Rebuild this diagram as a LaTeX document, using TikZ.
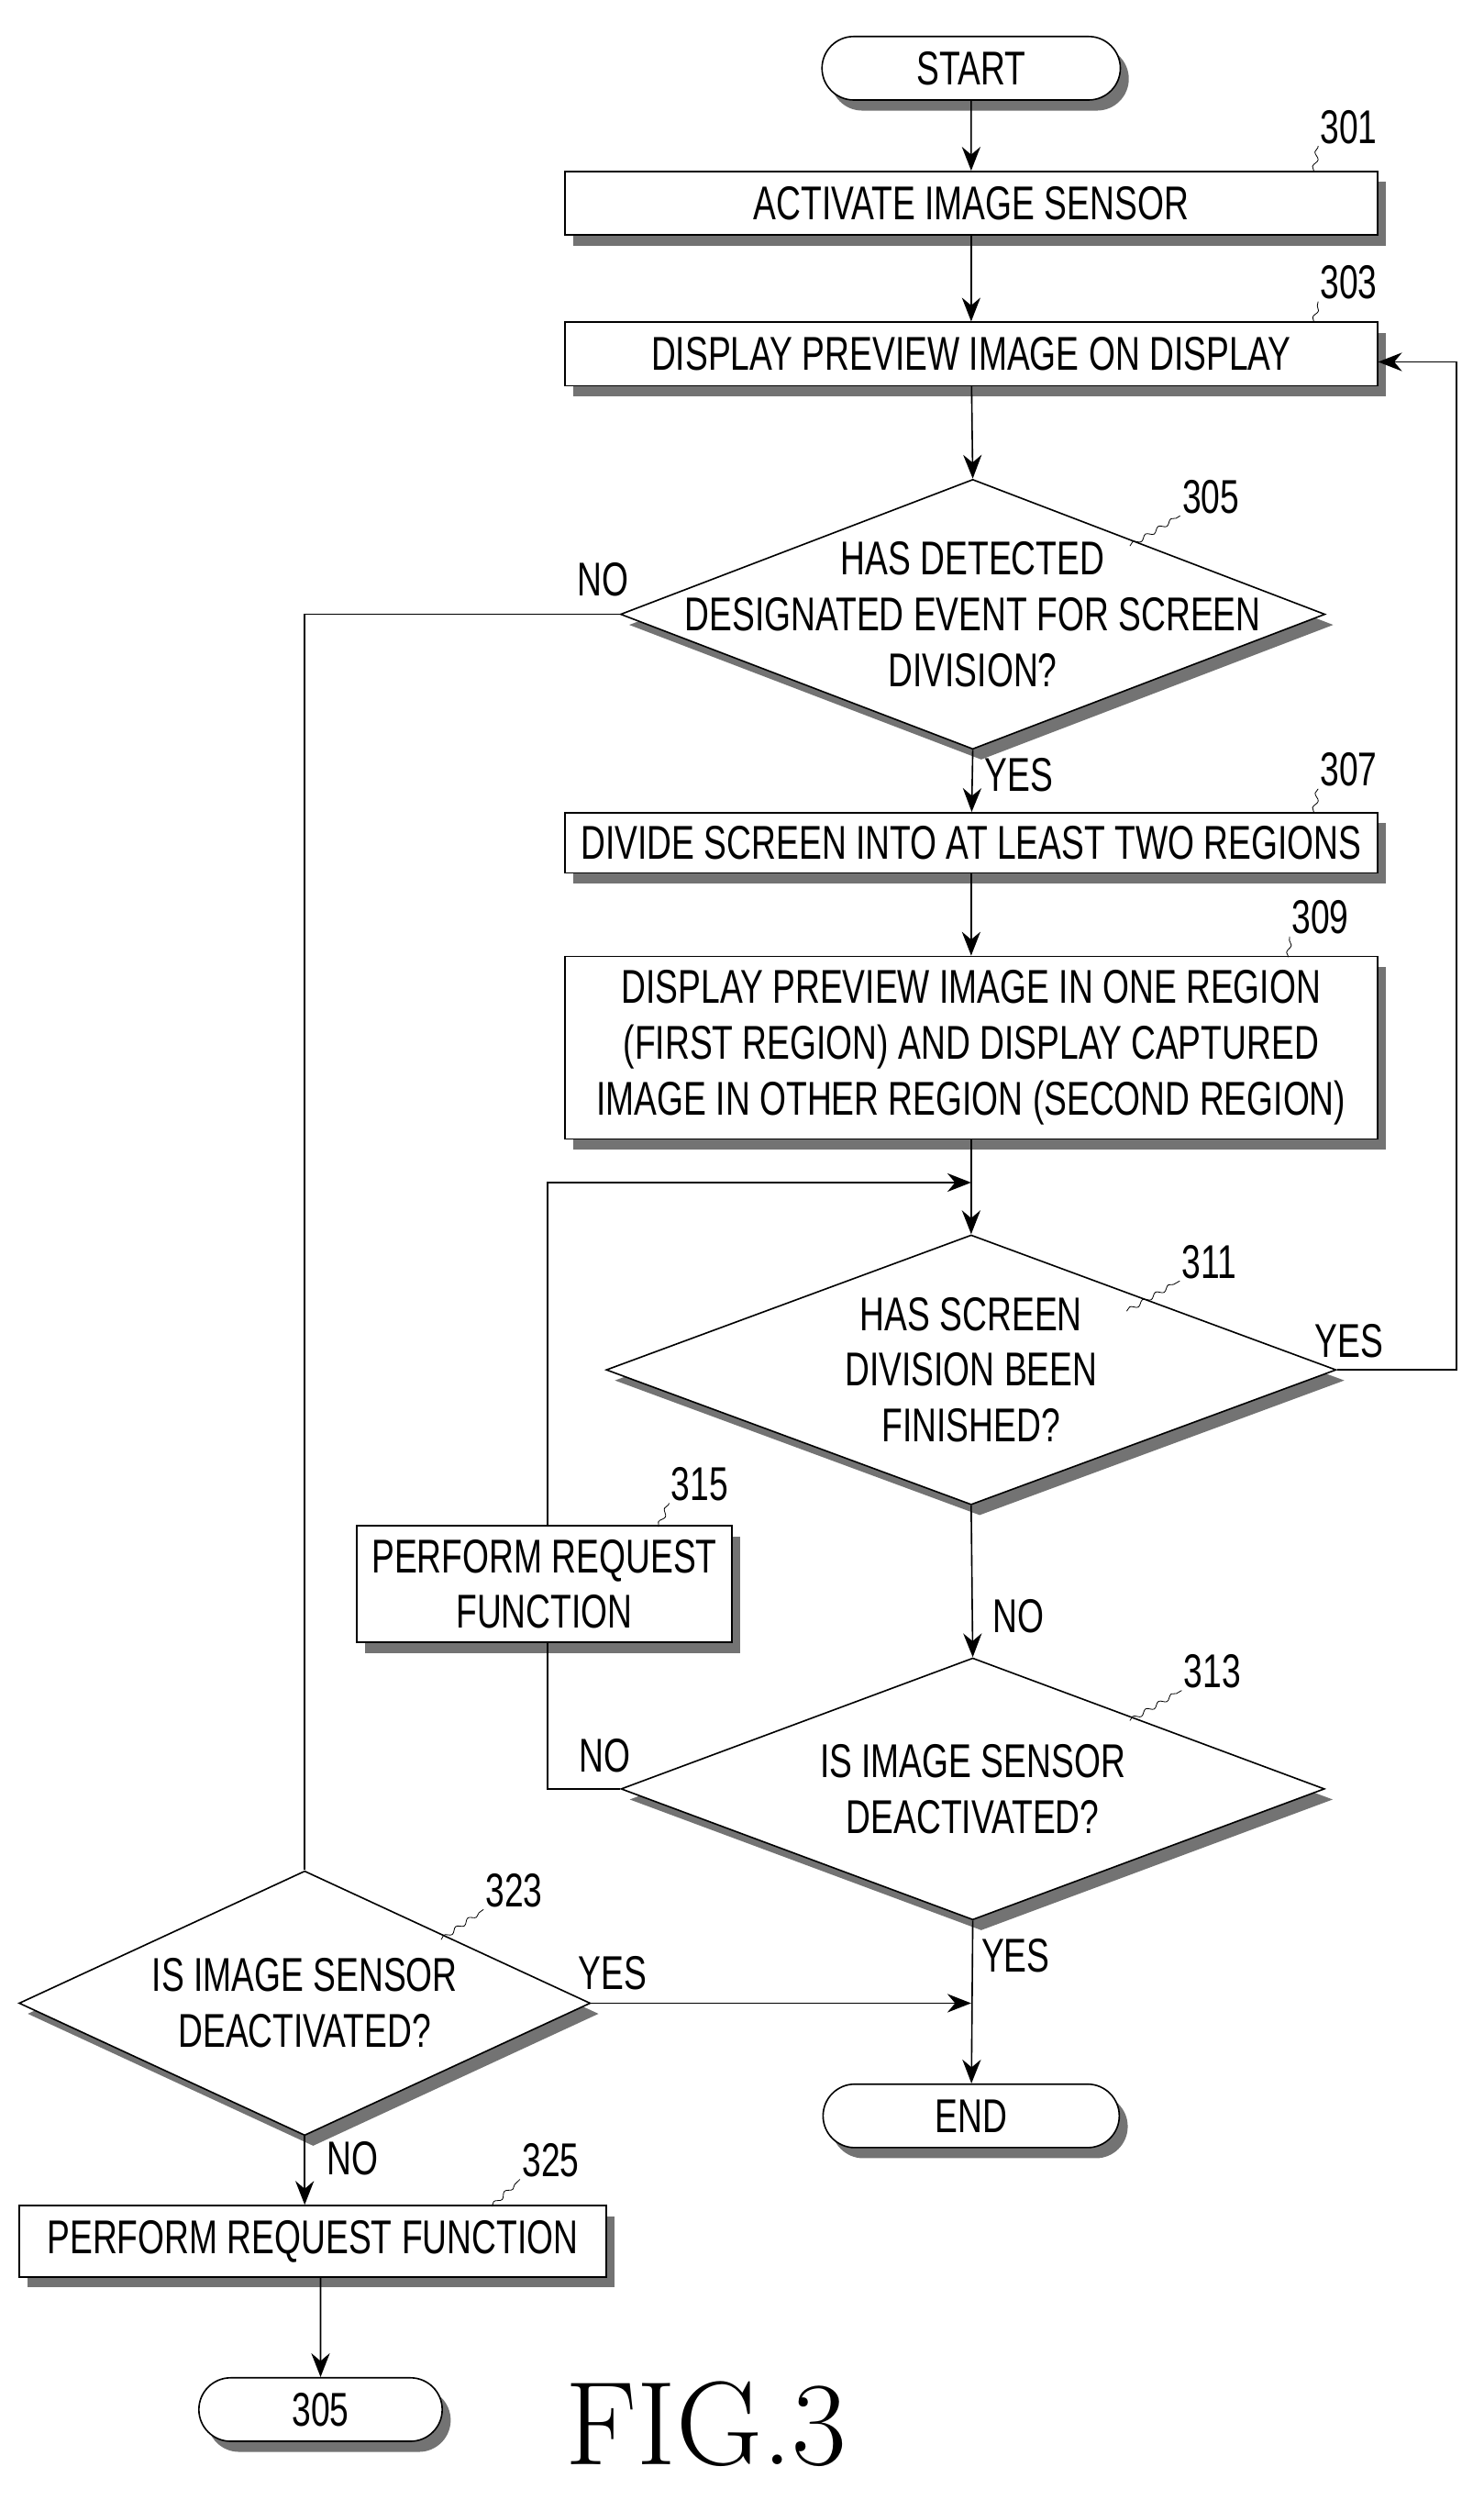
\documentclass[tikz,border=0pt]{standalone}
\usepackage{fontspec}
\setmainfont{Liberation Sans}[FakeStretch=0.72]
\newfontfamily\figfont{Latin Modern Roman}
\usetikzlibrary{shapes.geometric,shapes.misc,shadows,arrows.meta,decorations.pathmorphing}
\begin{document}
\begin{tikzpicture}[x=0.03cm,y=-0.03cm,
  font=\fontsize{25.5}{30}\selectfont,
  shd/.style={drop shadow={shadow xshift=0.16cm,shadow yshift=-0.2cm,fill=black!55,opacity=1}},
  box/.style={draw,thick,fill=white,shd,rectangle,inner sep=0pt,align=center},
  term/.style={draw,thick,fill=white,shd,rounded rectangle,minimum height=1.2cm,inner sep=0pt},
  dia/.style={draw,thick,fill=white,shd,diamond,inner sep=0pt},
  arr/.style={thick,-{Stealth[length=0.45cm,width=0.35cm]}},
  ln/.style={thick},
  lbl/.style={inner sep=1pt},
  sq/.style={thin,decorate,decoration={snake,amplitude=1.2pt,segment length=8pt}}]
\useasboundingbox (0,0) rectangle (935,1575);
% nodes
\node[term,minimum width=5.64cm] (start) at (612,43) {START};
\node[box,minimum width=15.36cm,minimum height=1.2cm] (b301) at (612,128) {ACTIVATE IMAGE SENSOR};
\node[box,minimum width=15.36cm,minimum height=1.2cm] (b303) at (612,223) {DISPLAY PREVIEW IMAGE ON DISPLAY};
\node[dia,minimum width=13.32cm,minimum height=5.1cm] (d305) at (613,387) {};
\node[align=center] at (d305) {HAS DETECTED\\DESIGNATED EVENT FOR SCREEN\\DIVISION?};
\node[box,minimum width=15.36cm,minimum height=1.14cm] (b307) at (612,531) {DIVIDE SCREEN INTO AT LEAST TWO REGIONS};
\node[box,minimum width=15.36cm,minimum height=3.45cm] (b309) at (612,660) {DISPLAY PREVIEW IMAGE IN ONE REGION\\(FIRST REGION) AND DISPLAY CAPTURED\\IMAGE IN OTHER REGION (SECOND REGION)};
\node[dia,minimum width=13.8cm,minimum height=5.1cm] (d311) at (612,863) {};
\node[align=center] at (d311) {HAS SCREEN\\DIVISION BEEN\\FINISHED?};
\node[box,minimum width=7.1cm,minimum height=2.2cm] (b315) at (343,998) {PERFORM REQUEST\\FUNCTION};
\node[dia,minimum width=13.3cm,minimum height=4.95cm] (d313) at (613,1127) {};
\node[align=center] at (d313) {IS IMAGE SENSOR\\DEACTIVATED?};
\node[term,minimum width=5.6cm] (end) at (612,1333) {END};
\node[dia,minimum width=10.8cm,minimum height=5.0cm] (d323) at (192,1262) {};
\node[align=center] at (d323) {IS IMAGE SENSOR\\DEACTIVATED?};
\node[box,minimum width=11.1cm,minimum height=1.35cm] (b325) at (197,1412) {PERFORM REQUEST FUNCTION};
\node[term,minimum width=4.6cm] (t305) at (202,1518) {305};
\node[font=\figfont\fontsize{64}{64}\selectfont] (fig) at (445,1527) {FIG.3};
\coordinate (loopc) at (612,745);
\coordinate (endin) at (612,1262);
% connectors
\draw[arr] (start) -- (b301);
\draw[arr] (b301) -- (b303);
\draw[arr] (b303) -- (d305.north);
\draw[arr] (d305.south) -- (b307);
\draw[arr] (b307) -- (b309);
\draw[arr] (b309) -- (d311.north);
\draw[arr] (d311.south) -- (d313.north);
\draw[arr] (d313.south) -- (end);
\draw[arr] (d311.east) -- (918,863) -- (918,228) -- (b303.east |- 0,228);
\draw[ln] (d313.west) -- (345,1127) -- (b315.south -| 345,0);
\draw[arr] (b315.north -| 345,0) -- (345,745) -- (loopc);
\draw[ln] (d305.west) -- (192,387) -- (d323.north);
\draw[arr] (d323.east) -- (endin);
\draw[arr] (d323.south) -- (b325.north -| d323.south);
\draw[arr] (b325.south -| t305.north) -- (t305);
% branch labels
\node[lbl] at (380,365) {NO};
\node[lbl] at (642,488) {YES};
\node[lbl] at (850,845) {YES};
\node[lbl] at (642,1018) {NO};
\node[lbl] at (381,1106) {NO};
\node[lbl] at (640,1232) {YES};
\node[lbl] at (386,1243) {YES};
\node[lbl] at (222,1360) {NO};
% reference numerals
\node[lbl] (r301) at (850,80) {301};
\node[lbl] (r303) at (850,178) {303};
\node[lbl] (r305) at (763,313) {305};
\node[lbl] (r307) at (850,485) {307};
\node[lbl] (r309) at (832,578) {309};
\node[lbl] (r311) at (762,795) {311};
\node[lbl] (r315) at (441,935) {315};
\node[lbl] (r313) at (764,1053) {313};
\node[lbl] (r323) at (324,1191) {323};
\node[lbl] (r325) at (347,1361) {325};
\draw[sq] (828,108) -- (r301.south west);
\draw[sq] (828,203) -- (r303.south west);
\draw[sq] (712,344) -- (r305.south west);
\draw[sq] (828,512) -- (r307.south west);
\draw[sq] (812,603) -- (r309.south west);
\draw[sq] (710,826) -- (r311.south west);
\draw[sq] (415,962) -- (r315.south west);
\draw[sq] (712,1084) -- (r313.south west);
\draw[sq] (278,1222) -- (r323.south west);
\draw[sq] (310,1390) -- (r325.south west);
\end{tikzpicture}
\end{document}
